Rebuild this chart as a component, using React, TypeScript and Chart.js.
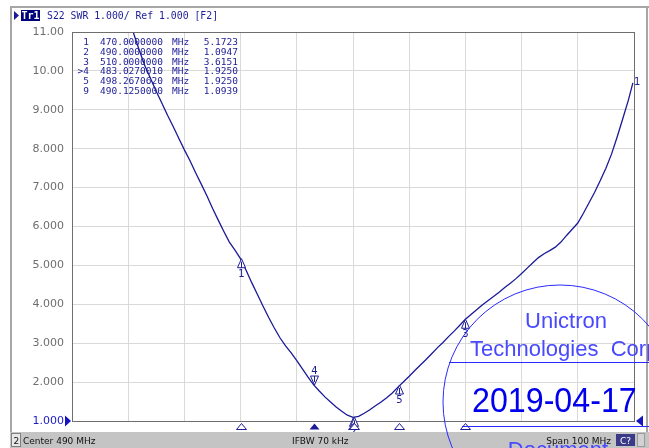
import React, { useEffect, useRef } from "react";
import { Chart, registerables } from "chart.js";

Chart.register(...registerables);

// ---- Data ----
const freqMHz = [
  450.5, 451, 452, 453, 454, 455, 456, 457, 458, 459, 460, 461, 462, 463, 464, 465, 466, 467, 468, 469,
  470, 471, 472, 473, 474, 475, 476, 477, 478, 479, 480, 481, 482, 483, 484, 485, 486, 487, 488, 489,
  490, 491, 492, 493, 494, 495, 496, 497, 498, 499, 500, 501, 502, 503, 504, 505, 506, 507, 508, 509,
  510, 511, 512, 513, 514, 515, 516, 517, 518, 519, 520, 521, 522, 523, 524, 525, 526, 527, 528, 529,
  530, 531, 532, 533, 534, 535, 536, 537, 538, 539, 539.8,
];
const swrValues = [
  11.15, 10.95, 10.52, 10.12, 9.8, 9.47, 9.17, 8.86, 8.57, 8.27, 7.97, 7.69, 7.38, 7.09, 6.79, 6.47, 6.17, 5.88, 5.6, 5.39,
  5.17, 4.87, 4.55, 4.25, 3.95, 3.66, 3.39, 3.14, 2.93, 2.75, 2.55, 2.34, 2.13, 1.93, 1.77, 1.62, 1.49, 1.36, 1.25, 1.15,
  1.095, 1.12, 1.2, 1.29, 1.39, 1.49, 1.6, 1.72, 1.87, 2.01, 2.15, 2.3, 2.44, 2.58, 2.73, 2.88, 3.02, 3.17, 3.31, 3.46,
  3.615, 3.74, 3.86, 3.98, 4.09, 4.2, 4.31, 4.43, 4.54, 4.66, 4.79, 4.93, 5.07, 5.2, 5.3, 5.38, 5.47, 5.6, 5.77, 5.93,
  6.09, 6.34, 6.61, 6.88, 7.18, 7.5, 7.86, 8.3, 8.77, 9.25, 9.69,
];

const markerIds = ["1", "2", "3", ">4", "5", "9"];
const markerFreqText = ["470.0000000", "490.0000000", "510.0000000", "483.0270010", "498.2670620", "490.1250000"];
const markerFreqs = [470, 490, 510, 483.027001, 498.267062, 490.125];
const markerSwr = [5.1723, 1.0947, 3.6151, 1.925, 1.925, 1.0939];
const activeMarker = ">4";

const xMin = 440;
const xMax = 540;
const xStep = 10;
const yMin = 1;
const yMax = 11;
const yStep = 1;

const headerTrace = "Tr1";
const headerText = "S22 SWR 1.000/ Ref 1.000 [F2]";
const statusChannel = "2";
const statusLeft = "Center 490 MHz";
const statusMid = "IFBW 70 kHz";
const statusRight = "Span 100 MHz";
const statusBox = "C?";
const stampLines = ["Unictron", "Technologies  Corporation", "2019-04-17", "Document"];

// ---- Styles ----
const W = 649;
const H = 448;
const NAVY = "#1c1c96";
const TRACE = "#1a1a98";
const GRID = "#d9d9d9";
const STAMP = "#2a2aff";

function fmtTick(v: number): string {
  return v >= 10 ? v.toFixed(2) : v.toFixed(3);
}

const screenPlugin = {
  id: "vnaScreen",
  beforeDraw(chart: any) {
    const ctx: CanvasRenderingContext2D = chart.ctx;
    ctx.save();
    ctx.fillStyle = "#ffffff";
    ctx.fillRect(0, 0, W, H);
    // window frame
    ctx.fillStyle = "#a6a6a6";
    ctx.fillRect(10, 6, 639, 2);
    ctx.fillRect(10, 6, 2, H - 6);
    ctx.fillRect(646, 6, 2, H - 6);
    // header
    ctx.fillStyle = NAVY;
    ctx.beginPath();
    ctx.moveTo(14, 11);
    ctx.lineTo(14, 20);
    ctx.lineTo(19, 15.5);
    ctx.closePath();
    ctx.fill();
    ctx.fillStyle = "#00007a";
    ctx.fillRect(21, 10, 19, 11);
    ctx.font = "bold 10px 'DejaVu Sans Mono'";
    ctx.textBaseline = "alphabetic";
    ctx.textAlign = "left";
    ctx.fillStyle = "#ffffff";
    ctx.fillText(headerTrace, 21.5, 19);
    ctx.font = "9.8px 'DejaVu Sans Mono'";
    ctx.fillStyle = NAVY;
    ctx.fillText(headerText, 47, 19);
    ctx.restore();
  },
  afterDraw(chart: any) {
    const ctx: CanvasRenderingContext2D = chart.ctx;
    const xs = chart.scales.x;
    const ys = chart.scales.y;
    const ca = chart.chartArea;
    ctx.save();

    // plot border
    ctx.strokeStyle = "#6e6e6e";
    ctx.lineWidth = 1;
    ctx.strokeRect(Math.round(ca.left) + 0.5, Math.round(ca.top) + 0.5, Math.round(ca.right - ca.left), Math.round(ca.bottom - ca.top));

    // marker table
    ctx.font = "9.5px 'DejaVu Sans Mono'";
    ctx.fillStyle = NAVY;
    markerIds.forEach((id, i) => {
      const yb = 45 + i * 9.8;
      ctx.textAlign = "right";
      ctx.fillText(id, 89, yb);
      ctx.textAlign = "left";
      ctx.fillText(markerFreqText[i], 100, yb);
      ctx.fillText("MHz", 172, yb);
      ctx.textAlign = "right";
      ctx.fillText(markerSwr[i].toFixed(4), 238, yb);
    });

    // on-trace markers
    ctx.font = "10px 'DejaVu Sans'";
    ctx.textAlign = "center";
    markerIds.forEach((id, i) => {
      const px = Math.round(xs.getPixelForValue(markerFreqs[i])) + 0.5;
      const py = ys.getPixelForValue(markerSwr[i]);
      const label = id.replace(">", "");
      ctx.beginPath();
      if (id === activeMarker) {
        ctx.moveTo(px, py);
        ctx.lineTo(px - 4, py - 9);
        ctx.lineTo(px + 4, py - 9);
      } else {
        ctx.moveTo(px, py);
        ctx.lineTo(px - 4, py + 9);
        ctx.lineTo(px + 4, py + 9);
      }
      ctx.closePath();
      ctx.fillStyle = "#ffffff";
      ctx.fill();
      ctx.strokeStyle = NAVY;
      ctx.stroke();
      ctx.beginPath();
      if (id === activeMarker) {
        ctx.moveTo(px, py - 9);
        ctx.lineTo(px, py - 3);
      } else {
        ctx.moveTo(px, py + 3);
        ctx.lineTo(px, py + 9);
      }
      ctx.stroke();
      ctx.fillStyle = NAVY;
      if (id === activeMarker) ctx.fillText(label, px, py - 11);
      else if (id !== "9") ctx.fillText(label, px, py + 18);
    });

    // bottom marker indicators
    markerIds.forEach((id, i) => {
      const px = Math.round(xs.getPixelForValue(markerFreqs[i])) + 0.5;
      ctx.beginPath();
      ctx.moveTo(px, 423.5);
      ctx.lineTo(px - 5, 429.5);
      ctx.lineTo(px + 5, 429.5);
      ctx.closePath();
      if (id === activeMarker) {
        ctx.fillStyle = NAVY;
        ctx.fill();
      } else {
        ctx.fillStyle = "#ffffff";
        ctx.fill();
        ctx.strokeStyle = NAVY;
        ctx.stroke();
      }
    });

    // reference level triangles
    const ry = ys.getPixelForValue(yMin);
    ctx.fillStyle = "#1414c0";
    ctx.beginPath();
    ctx.moveTo(65, ry - 5.5);
    ctx.lineTo(65, ry + 5.5);
    ctx.lineTo(71, ry);
    ctx.closePath();
    ctx.fill();
    ctx.beginPath();
    ctx.moveTo(643, ry - 5.5);
    ctx.lineTo(643, ry + 5.5);
    ctx.lineTo(636, ry);
    ctx.closePath();
    ctx.fill();

    // trace end label
    ctx.font = "10px 'DejaVu Sans'";
    ctx.fillStyle = NAVY;
    ctx.textAlign = "left";
    const lastX = xs.getPixelForValue(freqMHz[freqMHz.length - 1]);
    const lastY = ys.getPixelForValue(swrValues[swrValues.length - 1]);
    ctx.fillText("1", lastX + 1, lastY + 2);

    // status bar
    ctx.fillStyle = "#c4c4c4";
    ctx.fillRect(10, 432, 639, 16);
    ctx.fillStyle = "#e8e8e8";
    ctx.fillRect(11, 433, 10, 14);
    ctx.strokeStyle = "#808080";
    ctx.strokeRect(11.5, 433.5, 9, 13);
    ctx.font = "9px 'DejaVu Sans'";
    ctx.fillStyle = "#111111";
    ctx.textAlign = "left";
    ctx.fillText(statusChannel, 13.5, 444);
    ctx.fillText(statusLeft, 23, 444);
    ctx.fillText(statusMid, 292, 444);
    ctx.textAlign = "right";
    ctx.fillText(statusRight, 611, 444);
    ctx.fillStyle = "#3a3a88";
    ctx.fillRect(616, 434, 19, 12);
    ctx.fillStyle = "#ffffff";
    ctx.textAlign = "center";
    ctx.fillText(statusBox, 625.5, 444);
    ctx.fillStyle = "#d2d2d2";
    ctx.fillRect(637, 433, 8, 14);
    ctx.strokeStyle = "#9a9a9a";
    ctx.strokeRect(637.5, 433.5, 7, 13);

    // stamp watermark
    ctx.strokeStyle = STAMP;
    ctx.lineWidth = 1;
    ctx.beginPath();
    ctx.arc(560, 402, 117, 0, Math.PI * 2);
    ctx.stroke();
    ctx.beginPath();
    ctx.moveTo(449, 362.5);
    ctx.lineTo(649, 362.5);
    ctx.moveTo(462, 426.5);
    ctx.lineTo(649, 426.5);
    ctx.stroke();
    ctx.fillStyle = "#4848ff";
    ctx.font = "22px 'Liberation Sans'";
    ctx.textAlign = "center";
    ctx.fillText(stampLines[0], 566, 328);
    ctx.textAlign = "left";
    ctx.fillText(stampLines[1], 470, 356);
    ctx.save();
    ctx.fillStyle = "#0000ee";
    ctx.translate(472, 412);
    ctx.scale(0.92, 1);
    ctx.font = "35px 'Liberation Sans'";
    ctx.fillText(stampLines[2], 0, 0);
    ctx.restore();
    ctx.fillStyle = "#4848ff";
    ctx.font = "22px 'Liberation Sans'";
    ctx.textAlign = "center";
    ctx.fillText(stampLines[3], 558, 457);

    ctx.restore();
  },
};

export default function App() {
  const canvasRef = useRef<HTMLCanvasElement | null>(null);

  useEffect(() => {
    document.body.style.margin = "0";
    const canvas = canvasRef.current;
    if (!canvas) return;
    const chart = new Chart(canvas, {
      type: "line",
      data: {
        datasets: [
          {
            data: freqMHz.map((f, i) => ({ x: f, y: swrValues[i] })),
            borderColor: TRACE,
            borderWidth: 1.3,
            pointRadius: 0,
            tension: 0,
            fill: false,
          },
        ],
      },
      options: {
        responsive: false,
        animation: false,
        devicePixelRatio: 1,
        layout: { padding: { top: 32, right: 15, left: 0, bottom: 0 } },
        plugins: {
          legend: { display: false },
          tooltip: { enabled: false },
          title: { display: false },
        },
        scales: {
          x: {
            type: "linear",
            min: xMin,
            max: xMax,
            ticks: { stepSize: xStep, display: false },
            grid: { color: GRID, drawTicks: false, lineWidth: 1 },
            border: { display: false },
            afterFit: (s: any) => {
              s.height = 27;
            },
          },
          y: {
            type: "linear",
            min: yMin,
            max: yMax,
            ticks: {
              stepSize: yStep,
              padding: 8,
              font: { family: "'DejaVu Sans'", size: 11 },
              color: (c: any) => (c.tick && c.tick.value === yMin ? "#1a1ac8" : "#6e6e6e"),
              callback: (v: any) => fmtTick(Number(v)),
            },
            grid: { color: GRID, drawTicks: false, lineWidth: 1 },
            border: { display: false },
            afterFit: (s: any) => {
              s.width = 72;
            },
          },
        },
      } as any,
      plugins: [screenPlugin],
    });
    return () => chart.destroy();
  }, []);

  return <canvas ref={canvasRef} width={W} height={H} style={{ display: "block" }} />;
}
